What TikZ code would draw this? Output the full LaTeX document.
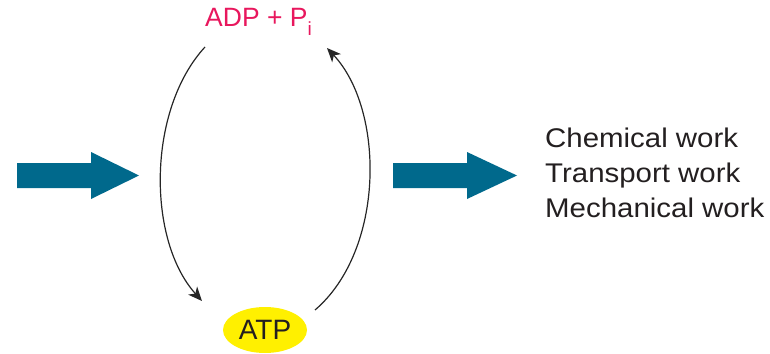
\documentclass[tikz,border=0pt]{standalone}
\usepackage{fontspec}
\setmainfont{Liberation Sans}
\newfontfamily\widesans[FakeStretch=1.09]{Liberation Sans}
\usetikzlibrary{arrows.meta,shapes.geometric}
\definecolor{teal}{RGB}{0,105,140}
\definecolor{adpred}{RGB}{232,23,93}
\definecolor{atpyel}{RGB}{255,240,0}
\definecolor{txtgray}{RGB}{35,31,32}
\tikzset{
  blockarrow/.style={fill=teal,draw=none},
  cyclearrow/.style={draw=black!85,line width=1.2pt,-{Stealth[length=14pt,width=12pt,inset=4pt]}},
  worktext/.style={anchor=base west,inner sep=0pt,text=txtgray,font=\widesans\fontsize{27}{30}\selectfont},
}
\begin{document}
\begin{tikzpicture}[x=1pt,y=-1pt]
\path[use as bounding box] (0,0) rectangle (770,353);
% block arrows
\fill[blockarrow] (17,163) -- (91,163) -- (91,152) -- (139,175.5) -- (91,199) -- (91,188) -- (17,188) -- cycle;
\fill[blockarrow] (393,163) -- (467,163) -- (467,152) -- (517,175.5) -- (467,199) -- (467,188) -- (393,188) -- cycle;
% nodes
\node[anchor=base west,inner sep=0pt,text=adpred,font=\fontsize{26.5}{30}\selectfont] (adp) at (205,27)
  {ADP + P\raisebox{-9pt}{\fontsize{19}{20}\selectfont i}};
\node[ellipse,fill=atpyel,minimum width=84pt,minimum height=46pt,inner sep=0pt,
  text=txtgray,font=\fontsize{28}{30}\selectfont] (atp) at (265,330) {ATP};
\node[worktext] (w1) at (545,147) {Chemical work};
\node[worktext] (w2) at (545,182) {Transport work};
\node[worktext] (w3) at (545,217) {Mechanical work};
% cycle connectors
\coordinate (ls) at (205,47);
\coordinate (le) at (202,301);
\coordinate (rs) at (315,310);
\coordinate (re) at (327,48);
\draw[cyclearrow] (ls) .. controls (147,110) and (147,240) .. (le);
\draw[cyclearrow] (rs) .. controls (385,250) and (385,110) .. (re);
\end{tikzpicture}
\end{document}
